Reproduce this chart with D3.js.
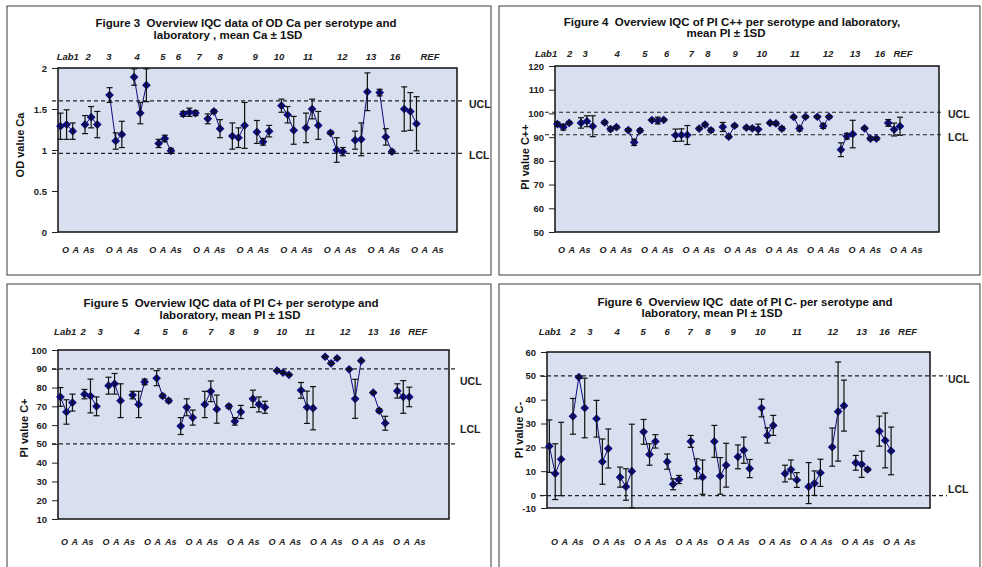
<!DOCTYPE html>
<html>
<head>
<meta charset="utf-8">
<script src="https://cdn.jsdelivr.net/npm/d3@7"></script>
<style>
  body { margin: 0; background: #fff; }
  svg { display: block; font-family: 'Liberation Sans', Arial, sans-serif; }
  text { white-space: pre; }
</style>
</head>
<body>
<svg id="chart" width="982" height="567"></svg>
<script>
// categories
const labs = ['Lab1', '2', '3', '4', '5', '6', '7', '8', '9', '10', '11', '12', '13', '16', 'REF'];
const serotypes = ['O', 'A', 'As'];
const bottomGroupCount = 9;

// Figure 3 - OD Ca, mean and 1SD (O, A, As per lab)
const fig3Mean = [1.29, 1.31, 1.23,  1.31, 1.40, 1.31,  1.67, 1.11, 1.19,  1.89, 1.45, 1.79,  1.08, 1.14, 0.99,
                  1.44, 1.46, 1.45,  1.38, 1.47, 1.26,  1.17, 1.15, 1.30,  1.22, 1.10, 1.23,  1.54, 1.43, 1.24,
                  1.27, 1.50, 1.30,  1.21, 1.00, 0.98,  1.12, 1.13, 1.71,  1.70, 1.16, 0.98,  1.50, 1.47, 1.32];
const fig3Sd   = [0.16, 0.18, 0.10,  0.11, 0.13, 0.16,  0.09, 0.10, 0.16,  0.10, 0.13, 0.20,  0.05, 0.04, 0.03,
                  0.03, 0.05, 0.03,  0.06, 0.02, 0.11,  0.16, 0.12, 0.28,  0.14, 0.04, 0.07,  0.08, 0.10, 0.17,
                  0.18, 0.12, 0.17,  0.02, 0.15, 0.05,  0.11, 0.20, 0.23,  0.04, 0.10, 0.02,  0.27, 0.23, 0.33];
const fig3Limits = [1.6, 0.96];
const fig3Ticks = [0, 0.5, 1, 1.5, 2];

// Figure 4 - PI C++
const fig4Mean = [95.5, 94.2, 96.0,  96.0, 96.7, 94.6,  96.2, 93.4, 94.2,  93.0, 87.8, 92.8,  97.2, 97.0, 97.3,
                  90.8, 90.9, 90.9,  93.6, 95.3, 92.9,  94.3, 90.2, 94.8,  94.0, 93.7, 93.3,  96.0, 95.8, 93.6,
                  98.5, 93.6, 98.6,  98.6, 94.7, 98.6,  84.7, 90.4, 91.3,  93.7, 89.4, 89.4,  96.0, 93.2, 94.6];
const fig4Sd   = [0.8, 1.2, 0.6,  2.2, 2.3, 4.4,  0.6, 0.8, 0.6,  0.6, 1.3, 0.7,  0.4, 1.4, 0.5,
                  2.6, 2.6, 4.0,  0.5, 0.6, 0.8,  1.9, 0.6, 0.6,  0.6, 0.6, 2.2,  0.5, 0.6, 0.8,
                  0.5, 1.0, 0.5,  0.5, 1.0, 0.5,  2.9, 1.2, 5.8,  0.5, 0.6, 0.6,  1.4, 2.7, 3.8];
const fig4Limits = [100.5, 91];
const fig4Ticks = [50, 60, 70, 80, 90, 100, 110, 120];

// Figure 5 - PI C+
const fig5Mean = [75.0, 67.0, 72.0,  76.5, 75.5, 70.0,  81.0, 82.0, 73.0,  76.0, 71.0, 83.0,  85.0, 75.5, 73.0,
                  59.5, 69.5, 64.0,  71.0, 78.0, 68.5,  70.0, 62.0, 67.0,  74.0, 71.0, 69.5,  89.0, 88.0, 86.8,
                  78.5, 69.5, 69.0,  96.4, 92.9, 95.6,  89.7, 74.0, 94.3,  77.3, 67.7, 61.0,  78.2, 75.0, 75.0];
const fig5Sd   = [5.0, 6.5, 4.5,  2.5, 9.0, 5.0,  4.5, 5.5, 9.0,  2.0, 7.0, 1.5,  4.0, 1.0, 1.0,
                  4.5, 4.5, 4.0,  7.0, 5.5, 7.5,  1.0, 2.0, 3.5,  4.6, 4.0, 3.2,  0.5, 0.5, 0.5,
                  4.2, 8.6, 11.5, 0.5, 0.6, 0.5,  0.5, 10.4, 0.5, 0.5, 1.0, 3.7,  3.8, 8.7, 5.2];
const fig5Limits = [90, 50];
const fig5Ticks = [10, 20, 30, 40, 50, 60, 70, 80, 90, 100];

// Figure 6 - PI C-
const fig6Mean = [20.5, 9.0, 15.0,  33.0, 49.5, 36.5,  32.0, 14.0, 19.5,  7.5, 3.5, 10.0,  26.5, 17.0, 22.5,
                  14.0, 4.5, 6.5,   22.5, 11.0, 7.5,   22.5, 8.0, 12.5,   16.0, 18.8, 11.1, 36.5, 25.0, 29.2,
                  9.0, 10.7, 6.3,   3.5, 4.9, 9.3,     20.1, 35.0, 37.5,  13.5, 12.9, 10.7, 26.8, 22.9, 18.5];
const fig6Sd   = [11.0, 12.5, 15.5,  7.5, 0.5, 12.5,  7.7, 9.5, 8.2,  4.2, 7.5, 19.7,  5.2, 4.5, 2.8,
                  3.2, 2.3, 1.7,     2.5, 4.2, 7.2,   6.7, 7.7, 9.2,  5.0, 5.5, 3.8,   3.7, 3.2, 4.2,
                  3.5, 4.0, 3.1,     10.1, 5.2, 5.7,  8.0, 20.8, 10.7, 3.1, 5.5, 0.6,  6.3, 11.5, 10.0];
const fig6Limits = [50, -0.5];
const fig6Ticks = [-10, 0, 10, 20, 30, 40, 50, 60];

// layout per panel
const panels = [
  {
    box: [7, 6, 484, 269], left: 58, right: 457, yDomain: [0, 2], yRange: [232, 68],
    mean: fig3Mean, sd: fig3Sd, limits: fig3Limits, ticks: fig3Ticks,
    title: [['Figure 3  Overview IQC data of OD Ca per serotype and', 246, 27], ['laboratory , mean Ca ± 1SD', 228, 39]],
    yTitle: ['OD value Ca', 21, 145], labY: 60, labSlots: [1.2, 4.5, 7.9, 12.5, 16.7, 19.2, 22.6, 26.0, 31.7, 35.6, 40.3, 45.9, 50.6, 54.5, 60.2],
    bottomY: 253, bottomRange: [62, 411], limitX: [52, 463], limitTextX: 469, limitDy: [4, 3]
  },
  {
    box: [499, 6, 481, 269], left: 555, right: 939, yDomain: [50, 120], yRange: [232, 66],
    mean: fig4Mean, sd: fig4Sd, limits: fig4Limits, ticks: fig4Ticks,
    title: [['Figure 4  Overview IQC of PI C++ per serotype and laboratory,', 732, 26], ['mean PI ± 1SD', 726, 37]],
    yTitle: ['PI value C++', 526, 157], labY: 57, labSlots: [-1.9, 2.1, 4.7, 10.1, 14.8, 18.5, 22.7, 25.5, 30.1, 34.6, 40.2, 45.8, 50.4, 54.6, 58.5],
    bottomY: 253, bottomRange: [558, 890], limitX: [545, 943], limitTextX: 948, limitDy: [3, 3]
  },
  {
    box: [7, 284, 484, 290], left: 58, right: 449, yDomain: [10, 100], yRange: [519, 350],
    mean: fig5Mean, sd: fig5Sd, limits: fig5Limits, ticks: fig5Ticks,
    title: [['Figure 5  Overview IQC data of PI C+ per serotype and', 231, 307], ['laboratory, mean PI ± 1SD', 230, 319]],
    yTitle: ['PI value C+', 25, 428], labY: 335, labSlots: [0.8, 3.8, 6.6, 12.7, 17.4, 20.7, 25.0, 28.5, 32.5, 36.8, 41.5, 47.3, 52.0, 55.6, 59.4],
    bottomY: 545, bottomRange: [61, 393], limitX: [52, 457], limitTextX: 460, limitDy: [13, -14]
  },
  {
    box: [499, 284, 481, 290], left: 547, right: 930, yDomain: [-10, 0, 60], yRange: [508, 495, 352],
    mean: fig6Mean, sd: fig6Sd, limits: fig6Limits, ticks: fig6Ticks,
    title: [['Figure 6  Overview IQC  date of PI C- per serotype and', 745, 306], ['laboratory, mean PI ± 1SD', 712, 317]],
    yTitle: ['PI value C-', 520, 430], labY: 335, labSlots: [0.1, 4.0, 6.9, 11.5, 15.9, 20.0, 23.9, 26.9, 31.2, 35.8, 42.0, 48.1, 53.0, 56.9, 60.8],
    bottomY: 545, bottomRange: [551, 883], limitX: [540, 947], limitTextX: 948, limitDy: [4, -5]
  }
];

const svg = d3.select('#chart');
const navy = '#0c0c7e';

function drawPanel(p) {
  const g = svg.append('g');

  g.append('rect')
    .attr('x', p.box[0]).attr('y', p.box[1])
    .attr('width', p.box[2]).attr('height', p.box[3])
    .attr('fill', '#fff').attr('stroke', '#3a3a3a').attr('stroke-width', 1);

  const x = d3.scaleLinear().domain([-0.4, 64.6]).range([p.left, p.right]);
  const y = d3.scaleLinear().domain(p.yDomain).range(p.yRange);
  const [yMin, yMax] = d3.extent(p.yDomain);

  // plot area
  g.append('rect')
    .attr('x', p.left).attr('y', y(yMax))
    .attr('width', p.right - p.left).attr('height', y(yMin) - y(yMax))
    .attr('fill', '#d8dfee').attr('stroke', '#111').attr('stroke-width', 1.5);

  // y axis
  const ax = g.append('g')
    .attr('transform', `translate(${p.left},0)`)
    .call(d3.axisLeft(y).tickValues(p.ticks).tickSize(6).tickPadding(5).tickFormat(d => String(d)));
  ax.select('.domain').remove();
  ax.selectAll('line').attr('stroke', '#222');
  ax.selectAll('text').attr('font-size', 9.5).attr('font-weight', 'bold').attr('fill', '#222');

  // titles
  g.selectAll('.title')
    .data(p.title)
    .enter().append('text')
    .attr('x', d => d[1]).attr('y', d => d[2])
    .attr('text-anchor', 'middle')
    .attr('font-size', 11.5).attr('font-weight', 'bold').attr('fill', '#111')
    .text(d => d[0]);

  g.append('text')
    .attr('transform', `translate(${p.yTitle[1]},${p.yTitle[2]}) rotate(-90)`)
    .attr('text-anchor', 'middle').attr('dominant-baseline', 'middle')
    .attr('font-size', 11).attr('font-weight', 'bold').attr('fill', '#111')
    .text(p.yTitle[0]);

  // lab labels on top
  g.selectAll('.lab')
    .data(labs)
    .enter().append('text')
    .attr('x', (d, i) => x(p.labSlots[i])).attr('y', p.labY)
    .attr('text-anchor', 'middle')
    .attr('font-size', 9.5).attr('font-weight', 'bold').attr('font-style', 'italic').attr('fill', '#222')
    .text(d => d);

  // O A As labels under the plot
  const groupX = d3.scalePoint().domain(d3.range(bottomGroupCount)).range(p.bottomRange);
  const within = d3.scalePoint().domain(serotypes).range([0, 21]);
  d3.range(bottomGroupCount).forEach(k => {
    g.selectAll(null)
      .data(serotypes)
      .enter().append('text')
      .attr('x', d => groupX(k) + within(d)).attr('y', p.bottomY)
      .attr('font-size', 9).attr('font-weight', 'bold').attr('font-style', 'italic').attr('fill', '#222')
      .text(d => d);
  });

  // control limits
  ['UCL', 'LCL'].forEach((name, i) => {
    g.append('line')
      .attr('x1', p.limitX[0]).attr('x2', p.limitX[1])
      .attr('y1', y(p.limits[i])).attr('y2', y(p.limits[i]))
      .attr('stroke', '#222').attr('stroke-width', 1.2).attr('stroke-dasharray', '4,3');
    g.append('text')
      .attr('x', p.limitTextX).attr('y', y(p.limits[i]) + p.limitDy[i])
      .attr('dominant-baseline', 'middle')
      .attr('font-size', 10.5).attr('font-weight', 'bold').attr('fill', '#222')
      .text(name);
  });

  // points
  const pts = p.mean.map((m, i) => ({
    lab: Math.floor(i / 3),
    slot: Math.floor(i / 3) * 4 + (i % 3),
    mean: m,
    sd: p.sd[i]
  }));

  const line = d3.line().x(d => x(d.slot)).y(d => y(d.mean));
  g.selectAll('.conn')
    .data(d3.groups(pts, d => d.lab))
    .enter().append('path')
    .attr('d', d => line(d[1]))
    .attr('fill', 'none').attr('stroke', navy).attr('stroke-width', 1);

  g.selectAll('.pt')
    .data(pts)
    .enter().append('path')
    .attr('d', d3.symbol(d3.symbolSquare, 38))
    .attr('transform', d => `translate(${x(d.slot)},${y(d.mean)}) rotate(45)`)
    .attr('fill', navy);

  const clamp = v => Math.max(yMin, Math.min(yMax, v));
  const eb = g.selectAll('.eb')
    .data(pts)
    .enter().append('g')
    .attr('stroke', '#111').attr('stroke-width', 1.2);
  eb.append('line')
    .attr('x1', d => x(d.slot)).attr('x2', d => x(d.slot))
    .attr('y1', d => y(clamp(d.mean - d.sd))).attr('y2', d => y(clamp(d.mean + d.sd)));
  eb.append('line')
    .attr('x1', d => x(d.slot) - 3).attr('x2', d => x(d.slot) + 3)
    .attr('y1', d => y(clamp(d.mean + d.sd))).attr('y2', d => y(clamp(d.mean + d.sd)));
  eb.append('line')
    .attr('x1', d => x(d.slot) - 3).attr('x2', d => x(d.slot) + 3)
    .attr('y1', d => y(clamp(d.mean - d.sd))).attr('y2', d => y(clamp(d.mean - d.sd)));
}

panels.forEach(drawPanel);
</script>
</body>
</html>
